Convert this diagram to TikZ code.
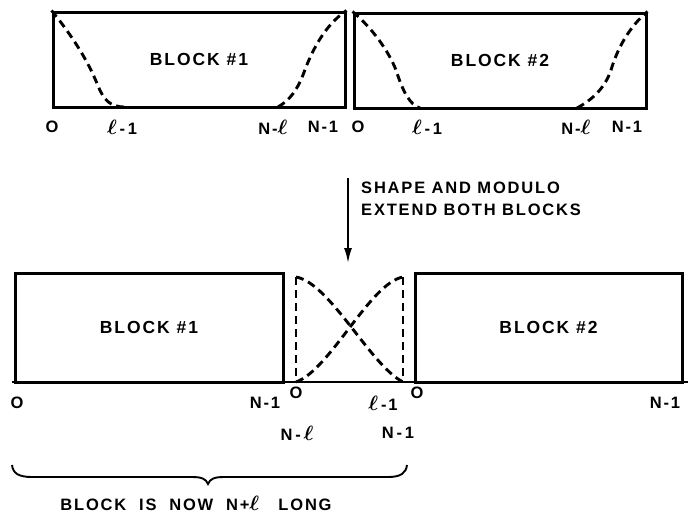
\documentclass[tikz,border=0pt]{standalone}
\usepackage{fontspec}
\usepackage{amsmath}
\usetikzlibrary{arrows.meta}
\setmainfont{Liberation Sans}
\newfontfamily\lblfont{Liberation Sans}[LetterSpace=11]
\newcommand{\ellb}{{\fontsize{20}{20}\selectfont$\boldsymbol{\ell}$}}
\begin{document}
\begin{tikzpicture}[x=1pt,y=-1pt,
  blk/.style={draw, line width=3pt, inner sep=0pt, font=\lblfont\bfseries\fontsize{17.5}{19}\selectfont},
  win/.style={line width=2.9pt, dash pattern=on 8pt off 5pt},
  lab/.style={font=\lblfont\bfseries\fontsize{16.5}{18}\selectfont, inner sep=0pt},
  note/.style={font=\lblfont\bfseries\fontsize{16.5}{18}\selectfont, inner sep=0pt, anchor=west},
  base/.style={line width=2.9pt}
  ]
\useasboundingbox (0,0) rectangle (695,517);

% ---------- top row ----------
\node[blk, minimum width=292pt, minimum height=95pt] (t1) at (199,59.5) {BLOCK \#1};
\node[blk, minimum width=292pt, minimum height=95pt] (t2) at (500,60.5) {BLOCK \#2};

\coordinate (t1l) at (125,107);
\coordinate (t1r) at (278,107);
\coordinate (t2l) at (420,108);
\coordinate (t2r) at (577,108);

\draw[win] (t1.north west) .. controls (70,33) and (88,60) .. (98,86) .. controls (104,100) and (110,107) .. (t1l);
\draw[win] (t1r) .. controls (290,100) and (297,90) .. (303,75) .. controls (312,50) and (325,25) .. (t1.north east);
\draw[win] (t2.north west) .. controls (372,28) and (388,50) .. (396,70) .. controls (403,92) and (410,105) .. (t2l);
\draw[win] (t2r) .. controls (592,100) and (605,88) .. (611,70) .. controls (617,50) and (628,28) .. (t2.north east);

\node[lab] (a0) at (52,127) {O};
\node[lab] (a1) at (122,127) {\ellb\,-\,1};
\node[lab] (a2) at (273,127) {N-\ellb};
\node[lab] (a3) at (323,127) {N-1};
\node[lab] (c0) at (358,127) {O};
\node[lab] (c1) at (427,127) {\ellb\,-\,1};
\node[lab] (c2) at (576,127) {N-\ellb};
\node[lab] (c3) at (627,127) {N-1};

% ---------- arrow ----------
\coordinate (arrA) at (348,178);
\coordinate (arrB) at (348,263);
\draw[line width=1.8pt, -{Latex[length=15pt,width=8pt]}] (arrA) -- (arrB);
\node[note] (n1) at (361,188) {SHAPE\ AND\ MODULO};
\node[note] (n2) at (361,210) {EXTEND\ BOTH\ BLOCKS};

% ---------- bottom row ----------
\node[blk, minimum width=268pt, minimum height=109pt] (b1) at (149,327.5) {BLOCK \#1};
\node[blk, minimum width=267pt, minimum height=109pt] (b2) at (548.5,327.5) {BLOCK \#2};

\coordinate (wtl) at (296,277);
\coordinate (wbl) at (296,382);
\coordinate (wtr) at (403,277);
\coordinate (wbr) at (403,382);
\draw[win] (wtl) -- (wbl);
\draw[win] (wtr) -- (wbr);
\draw[win] (wtl) .. controls (330,283) and (370,365) .. (wbr);
\draw[win] (wbl) .. controls (330,370) and (370,283) .. (wtr);

\coordinate (bl) at (12,382);
\coordinate (br) at (688,382);
\draw[base] (bl) -- (br);

\node[lab] (d0) at (17,403) {O};
\node[lab] (d1) at (265,403) {N-1};
\node[lab] (d2) at (296,393) {O};
\node[lab] (d3) at (383,403) {\ellb\,-1};
\node[lab] (d4) at (417,393) {O};
\node[lab] (d5) at (665,403) {N-1};
\node[lab] (e1) at (297,433) {N\,-\,\ellb};
\node[lab] (e2) at (398,433) {N\,-\,1};

% ---------- brace ----------
\coordinate (brL) at (12,465);
\coordinate (brT) at (208,484);
\coordinate (brR) at (407,465);
\draw[line width=1.9pt] (brL) .. controls (13,473) and (18,477) .. (32,477) -- (192,477)
  .. controls (202,477) and (206,479) .. (brT)
  .. controls (210,479) and (214,477) .. (224,477) -- (388,477)
  .. controls (401,477) and (406,473) .. (brR);
\node[lab] (bt) at (196,503) {BLOCK\ \ IS\ \ NOW\ \ N+\ellb\ \ \ LONG};
\end{tikzpicture}
\end{document}
